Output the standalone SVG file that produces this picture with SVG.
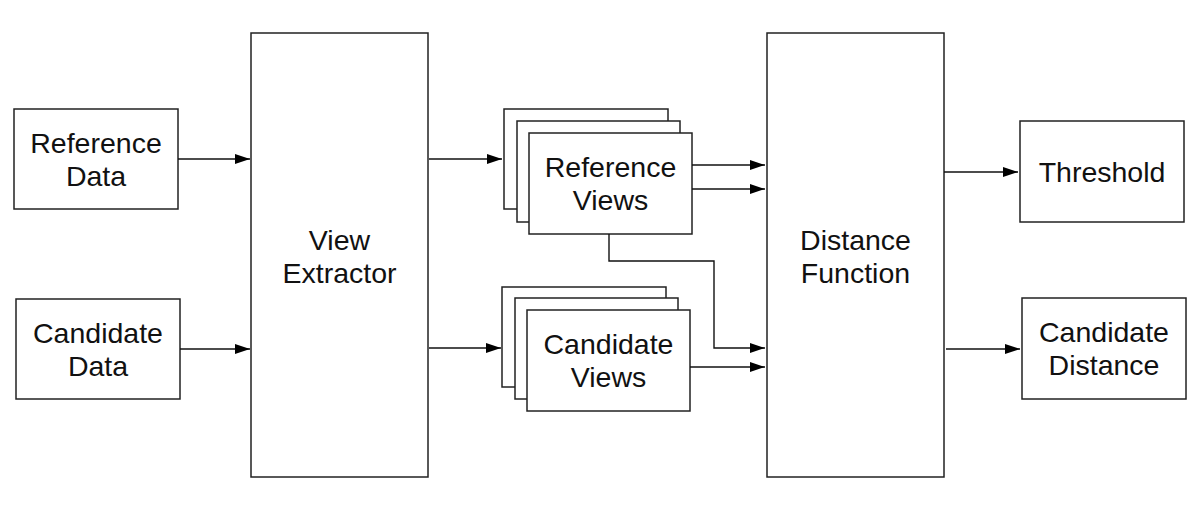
<svg xmlns="http://www.w3.org/2000/svg" width="1204" height="517" viewBox="0 0 1204 517">
<defs>
<marker id="ah" viewBox="0 0 15 10" refX="15" refY="5" markerWidth="15" markerHeight="10" markerUnits="userSpaceOnUse" orient="auto">
<path d="M0,0 L15,5 L0,10 z" fill="#000"/>
</marker>
<style>
.box{fill:#fff;stroke:#222;stroke-width:1.5}
.t{font-family:"Liberation Sans",Arial,sans-serif;font-size:28.5px;fill:#111;text-anchor:middle}
.c{fill:none;stroke:#111;stroke-width:1.4;marker-end:url(#ah)}
</style>
</defs>
<rect width="1204" height="517" fill="#fff"/>
<g id="reference-data">
<rect class="box" x="14" y="109" width="164" height="100"/>
<text class="t" x="96" y="153">Reference</text>
<text class="t" x="96" y="186">Data</text>
</g>
<g id="candidate-data">
<rect class="box" x="16" y="299" width="164" height="100"/>
<text class="t" x="98" y="343">Candidate</text>
<text class="t" x="98" y="376">Data</text>
</g>
<g id="view-extractor">
<rect class="box" x="251" y="33" width="177" height="444"/>
<text class="t" x="339.5" y="250">View</text>
<text class="t" x="339.5" y="283">Extractor</text>
</g>
<g id="reference-views">
<rect class="box" x="504" y="109" width="164" height="100"/>
<rect class="box" x="517" y="121" width="163" height="101"/>
<rect class="box" x="529" y="133" width="163" height="101"/>
<text class="t" x="610.5" y="177">Reference</text>
<text class="t" x="610.5" y="210">Views</text>
</g>
<g id="candidate-views">
<rect class="box" x="502" y="287" width="164" height="100"/>
<rect class="box" x="515" y="298" width="163" height="101"/>
<rect class="box" x="527" y="310" width="163" height="101"/>
<text class="t" x="608.5" y="354">Candidate</text>
<text class="t" x="608.5" y="387">Views</text>
</g>
<g id="distance-function">
<rect class="box" x="767" y="33" width="177" height="444"/>
<text class="t" x="855.5" y="250">Distance</text>
<text class="t" x="855.5" y="283">Function</text>
</g>
<g id="threshold">
<rect class="box" x="1020" y="121" width="164" height="101"/>
<text class="t" x="1102" y="182">Threshold</text>
</g>
<g id="candidate-distance">
<rect class="box" x="1022" y="298" width="164" height="101"/>
<text class="t" x="1104" y="342">Candidate</text>
<text class="t" x="1104" y="375">Distance</text>
</g>
<g id="connectors">
<path class="c" d="M178,159 H250"/>
<path class="c" d="M180,349 H250"/>
<path class="c" d="M429,159 H502"/>
<path class="c" d="M429,348 H501"/>
<path class="c" d="M692,165 H765"/>
<path class="c" d="M692,189 H765"/>
<path class="c" d="M609,234 V261 H714 V348 H765"/>
<path class="c" d="M690,367 H765"/>
<path class="c" d="M944,172 H1018"/>
<path class="c" d="M946,349 H1020"/>
</g>
</svg>
